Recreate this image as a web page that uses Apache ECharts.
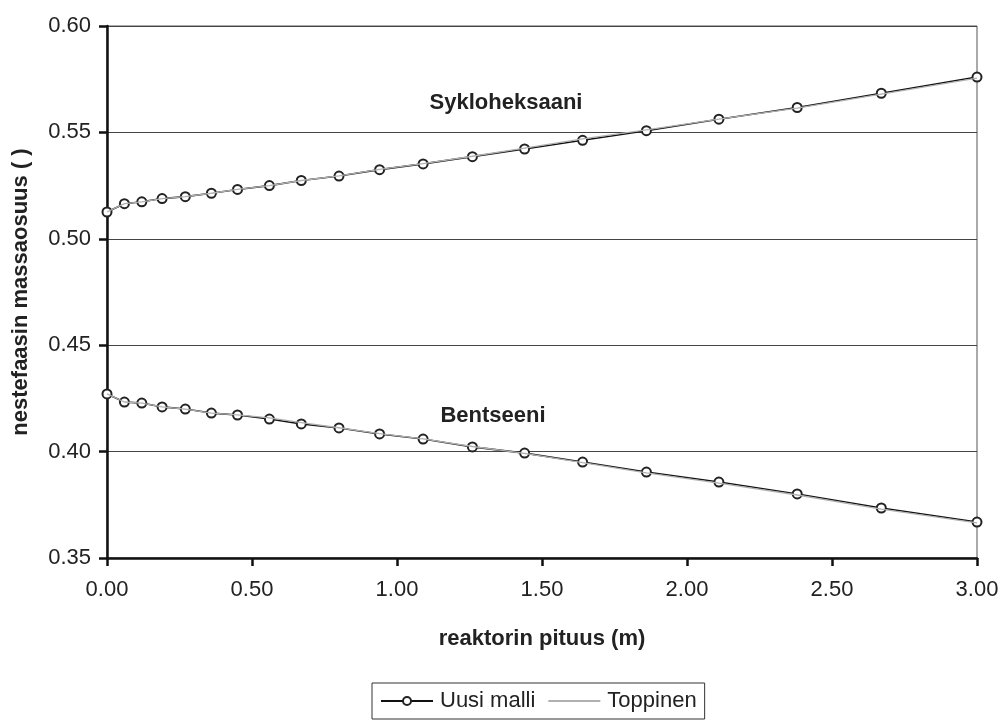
<!DOCTYPE html>
<html>
<head>
<meta charset="utf-8">
<script src="https://cdn.jsdelivr.net/npm/echarts@6/dist/echarts.min.js"></script>
<style>
html,body{margin:0;padding:0;background:#fff;}
#chart{width:1004px;height:723px;}
</style>
</head>
<body>
<div id="chart"></div>
<script>
// reactor length positions (m)
const xPos = [0, 0.06, 0.12, 0.19, 0.27, 0.36, 0.45, 0.56, 0.67, 0.80, 0.94, 1.09, 1.26, 1.44, 1.64, 1.86, 2.11, 2.38, 2.67, 3.00];
// Uusi malli
const uusiSyklo = [0.5126, 0.5165, 0.5174, 0.5189, 0.5198, 0.5214, 0.5232, 0.5250, 0.5274, 0.5295, 0.5325, 0.5352, 0.5386, 0.5422, 0.5463, 0.5508, 0.5562, 0.5617, 0.5684, 0.5760];
const uusiBentso = [0.4271, 0.4233, 0.4228, 0.4210, 0.4200, 0.4181, 0.4172, 0.4153, 0.4130, 0.4111, 0.4083, 0.4059, 0.4022, 0.3993, 0.3951, 0.3904, 0.3857, 0.3801, 0.3735, 0.3669];
// Toppinen
const toppSyklo = [0.5126, 0.5165, 0.5174, 0.5189, 0.5198, 0.5214, 0.5232, 0.5250, 0.5274, 0.5296, 0.5326, 0.5353, 0.5388, 0.5426, 0.5470, 0.5512, 0.5562, 0.5614, 0.5680, 0.5755];
const toppBentso = [0.4271, 0.4233, 0.4228, 0.4210, 0.4200, 0.4181, 0.4173, 0.4158, 0.4136, 0.4112, 0.4084, 0.4060, 0.4024, 0.3992, 0.3948, 0.3900, 0.3852, 0.3796, 0.3730, 0.3665];
const seriesNames = ['Uusi malli', 'Toppinen'];
const compLabels = ['Sykloheksaani', 'Bentseeni'];
const xTicks = [0, 0.5, 1.0, 1.5, 2.0, 2.5, 3.0];
const yTicks = [0.35, 0.40, 0.45, 0.50, 0.55, 0.60];

const pair = (xs, ys) => xs.map((x, i) => [x, ys[i]]);
const FONT = '"Liberation Sans", Arial, sans-serif';

const uusiStyle = {
  type: 'line', name: seriesNames[0], symbol: 'emptyCircle', symbolSize: 9,
  lineStyle: { color: '#111', width: 1.6 },
  itemStyle: { color: '#222', borderWidth: 1.3 },
  z: 2
};
const toppStyle = {
  type: 'line', name: seriesNames[1], symbol: 'none',
  lineStyle: { color: '#b0b0b0', width: 1.3 },
  itemStyle: { color: '#b0b0b0' },
  z: 3
};
const annLabel = {
  show: true, position: 'inside', color: '#222', fontFamily: FONT,
  fontWeight: 'bold', fontSize: 22, formatter: p => p.name
};

const chart = echarts.init(document.getElementById('chart'), null, { renderer: 'canvas' });
chart.setOption({
  animation: false,
  backgroundColor: '#fff',
  grid: { left: 107, right: 27, top: 26, bottom: 165, show: true, borderColor: '#555', borderWidth: 1 },
  xAxis: {
    type: 'value', min: xTicks[0], max: xTicks[xTicks.length - 1], interval: 0.5,
    name: 'reaktorin pituus (m)', nameLocation: 'middle', nameGap: 70,
    nameTextStyle: { fontFamily: FONT, fontWeight: 'bold', fontSize: 22, color: '#222' },
    axisLine: { show: true, onZero: false, lineStyle: { color: '#111', width: 2.5 } },
    axisTick: { show: true, inside: false, length: 8, lineStyle: { color: '#111', width: 2.5 } },
    axisLabel: { margin: 21, fontFamily: FONT, fontSize: 22, color: '#222', formatter: v => v.toFixed(2) },
    splitLine: { show: false }
  },
  yAxis: {
    type: 'value', min: yTicks[0], max: yTicks[yTicks.length - 1], interval: 0.05,
    name: 'nestefaasin massaosuus ( )', nameLocation: 'middle', nameGap: 75,
    nameTextStyle: { fontFamily: FONT, fontWeight: 'bold', fontSize: 22, color: '#222' },
    axisLine: { show: true, onZero: false, lineStyle: { color: '#111', width: 2.5 } },
    axisTick: { show: true, inside: false, length: 8, lineStyle: { color: '#111', width: 2.5 } },
    axisLabel: { margin: 16, fontFamily: FONT, fontSize: 22, color: '#222', formatter: v => v.toFixed(2) },
    splitLine: { show: true, lineStyle: { color: '#444', width: 1 } }
  },
  legend: {
    data: [{ name: seriesNames[0] }, { name: seriesNames[1], itemStyle: { opacity: 0 } }],
    left: 372, top: 683, orient: 'horizontal',
    itemWidth: 52, itemHeight: 10, itemGap: 12,
    borderColor: '#333', borderWidth: 1, padding: [7, 8, 7, 8], borderRadius: 0,
    textStyle: { fontFamily: FONT, fontSize: 22, color: '#222', padding: [0, 0, 0, 2] }
  },
  series: [
    Object.assign({}, uusiStyle, {
      data: pair(xPos, uusiSyklo),
      markPoint: {
        symbol: 'circle', symbolSize: 0, silent: true,
        label: annLabel,
        data: [{ name: compLabels[0], coord: [1.376, 0.5638] }]
      }
    }),
    Object.assign({}, uusiStyle, {
      data: pair(xPos, uusiBentso),
      markPoint: {
        symbol: 'circle', symbolSize: 0, silent: true,
        label: annLabel,
        data: [{ name: compLabels[1], coord: [1.331, 0.4167] }]
      }
    }),
    Object.assign({}, toppStyle, { data: pair(xPos, toppSyklo) }),
    Object.assign({}, toppStyle, { data: pair(xPos, toppBentso) })
  ]
});
</script>
</body>
</html>
